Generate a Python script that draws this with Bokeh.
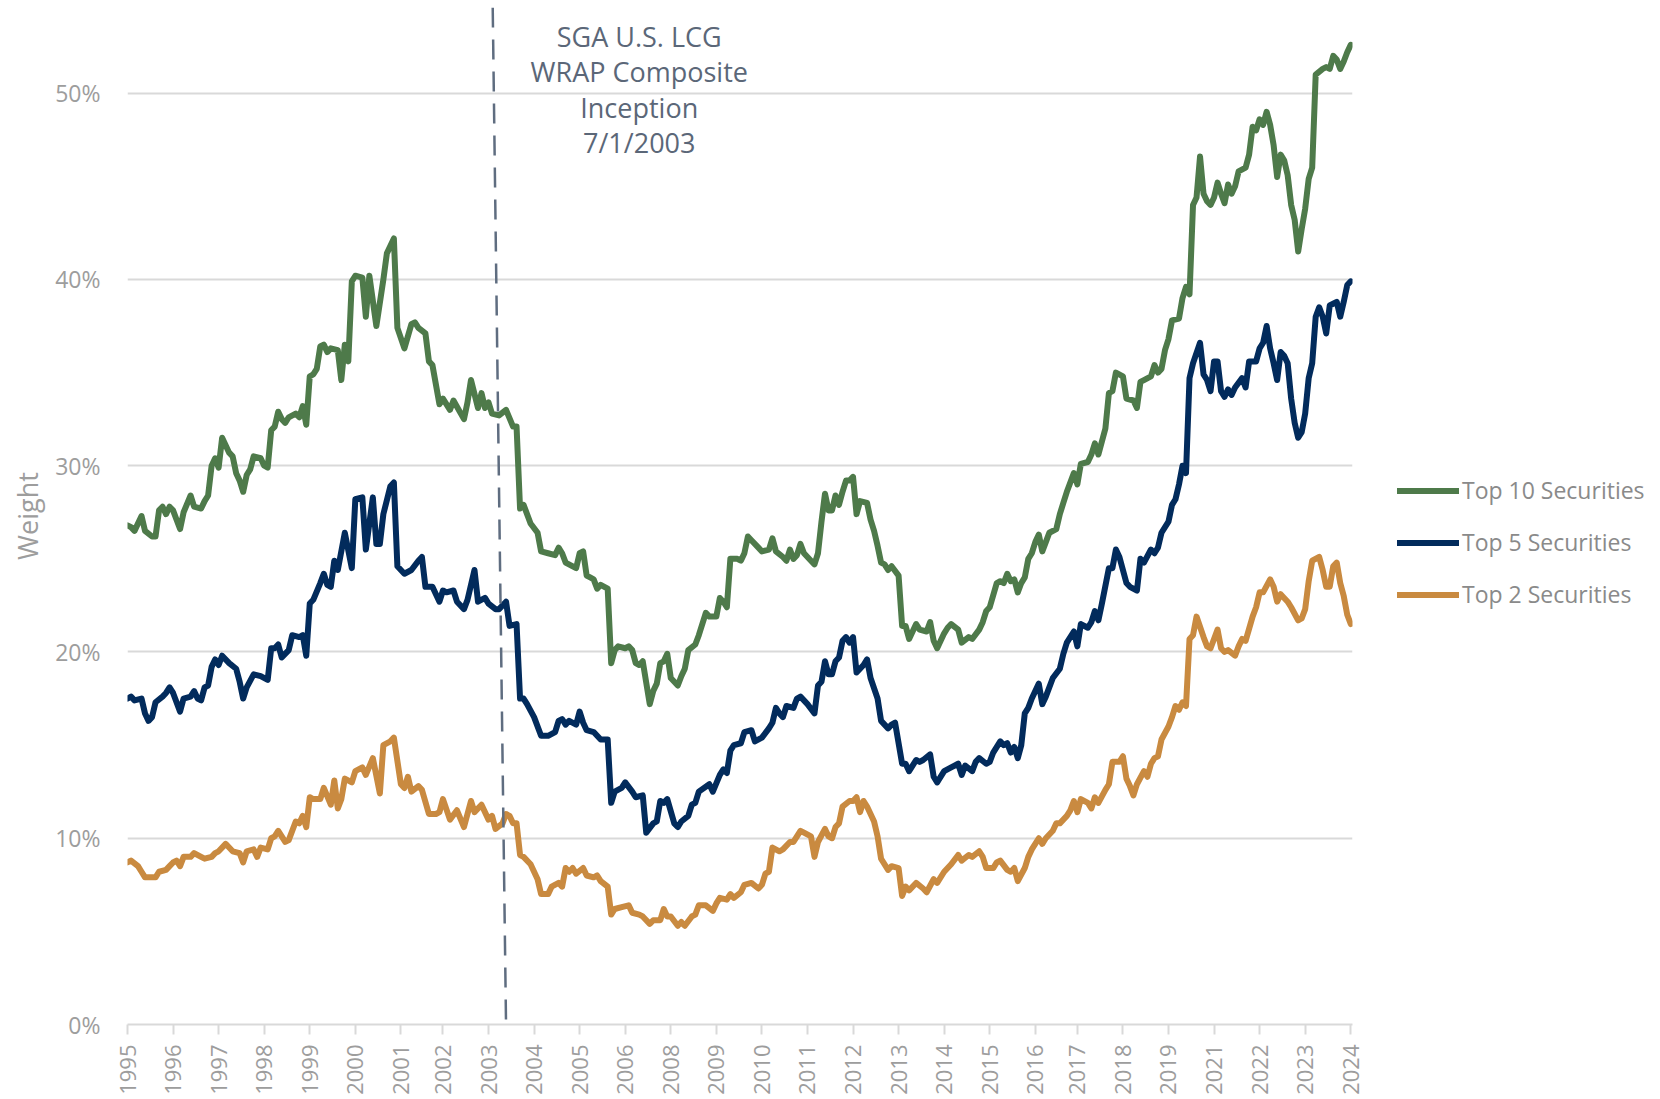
import math
from bokeh.plotting import figure
from bokeh.models import Range1d, FixedTicker, PrintfTickFormatter, Legend, LegendItem, Label
from bokeh.embed import file_html
from bokeh.resources import INLINE

# ---------------- data ----------------
x_labels = ["1995", "1996", "1997", "1998", "1999", "2000", "2001", "2002", "2003", "2004",
            "2005", "2006", "2008", "2009", "2010", "2011", "2012", "2013", "2014", "2015",
            "2016", "2017", "2018", "2019", "2021", "2022", "2023", "2024"]
last_month = 349

series_names = ["Top 10 Securities", "Top 5 Securities", "Top 2 Securities"]
series_colors = ["#4e7a4a", "#022b5c", "#c98a40"]

top10_month = [0, 1, 2, 4, 5, 7, 8, 9, 10, 11, 12, 13, 14, 15, 16, 18, 19, 21, 22, 23, 24, 25, 26, 27, 29, 30, 31, 32, 33, 34, 35, 36, 38, 39, 40, 41, 42, 43, 44, 45, 46, 48, 49, 50, 51, 52, 53, 54, 55, 56, 57, 58, 60, 61, 62, 63, 64, 65, 67, 68, 69, 71, 73, 74, 76, 77, 79, 81, 82, 83, 85, 86, 87, 89, 90, 92, 93, 96, 97, 98, 100, 101, 102, 103, 104, 106, 108, 110, 111, 112, 113, 115, 117, 118, 120, 122, 123, 124, 125, 128, 129, 130, 131, 132, 133, 134, 135, 137, 138, 139, 140, 142, 143, 144, 145, 146, 147, 149, 150, 151, 152, 153, 154, 155, 157, 158, 159, 160, 162, 163, 165, 166, 168, 169, 170, 171, 172, 174, 175, 176, 177, 178, 180, 181, 183, 184, 185, 187, 188, 189, 190, 191, 192, 193, 195, 196, 197, 198, 199, 200, 201, 202, 203, 204, 205, 206, 207, 208, 209, 211, 212, 213, 214, 215, 216, 217, 218, 220, 221, 222, 223, 225, 226, 228, 229, 230, 231, 233, 234, 235, 237, 238, 240, 241, 243, 244, 245, 246, 248, 249, 250, 251, 252, 253, 254, 255, 256, 257, 258, 259, 260, 261, 262, 263, 265, 266, 267, 268, 270, 271, 272, 274, 275, 276, 277, 279, 280, 281, 282, 284, 285, 287, 288, 289, 290, 292, 293, 294, 295, 296, 297, 298, 300, 301, 302, 303, 304, 305, 306, 307, 308, 309, 310, 311, 312, 313, 314, 315, 316, 317, 319, 320, 321, 322, 323, 324, 325, 326, 327, 328, 329, 330, 331, 332, 333, 334, 335, 336, 337, 338, 339, 341, 342, 343, 344, 345, 346, 347, 348, 349]
top10 = [26.8, 26.7, 26.5, 27.3, 26.5, 26.2, 26.2, 27.6, 27.8, 27.4, 27.8, 27.6, 27.1, 26.6, 27.5, 28.4, 27.8, 27.7, 28.1, 28.4, 30.0, 30.4, 29.9, 31.5, 30.7, 30.5, 29.6, 29.2, 28.6, 29.5, 29.8, 30.5, 30.4, 30.0, 29.9, 31.9, 32.1, 32.9, 32.5, 32.3, 32.6, 32.8, 32.6, 33.2, 32.2, 34.8, 34.9, 35.2, 36.4, 36.5, 36.1, 36.3, 36.2, 34.6, 36.5, 35.6, 39.9, 40.2, 40.1, 38.0, 40.2, 37.5, 40.0, 41.4, 42.2, 37.4, 36.3, 37.6, 37.7, 37.4, 37.1, 35.6, 35.4, 33.3, 33.6, 33.0, 33.5, 32.5, 33.4, 34.6, 33.1, 33.9, 33.1, 33.4, 32.8, 32.7, 33.0, 32.1, 32.1, 27.7, 27.9, 26.9, 26.4, 25.4, 25.3, 25.2, 25.6, 25.3, 24.8, 24.5, 25.3, 25.4, 24.1, 24.0, 23.9, 23.4, 23.6, 23.4, 19.4, 20.1, 20.3, 20.2, 20.3, 20.1, 19.4, 19.3, 19.5, 17.2, 17.9, 18.3, 19.4, 19.5, 19.9, 18.6, 18.2, 18.7, 19.1, 20.1, 20.4, 20.9, 22.1, 21.9, 21.9, 22.9, 22.7, 22.4, 25.0, 25.0, 24.9, 25.3, 26.2, 26.0, 25.6, 25.4, 25.5, 26.1, 25.4, 25.1, 24.9, 25.5, 25.0, 25.2, 25.8, 25.3, 24.9, 24.7, 25.3, 27.0, 28.5, 27.6, 27.6, 28.4, 27.9, 28.6, 29.2, 29.2, 29.4, 27.4, 28.1, 28.0, 27.1, 26.5, 25.7, 24.8, 24.7, 24.4, 24.6, 24.1, 21.4, 21.4, 20.7, 21.5, 21.2, 21.1, 21.6, 20.6, 20.2, 21.0, 21.3, 21.5, 21.2, 20.5, 20.8, 20.7, 21.2, 21.6, 22.2, 22.4, 23.7, 23.8, 23.7, 24.2, 23.8, 23.9, 23.2, 23.7, 24.0, 25.0, 25.3, 25.9, 26.3, 25.4, 25.9, 26.4, 26.6, 27.4, 28.0, 28.6, 29.6, 29.0, 30.1, 30.2, 30.6, 31.2, 30.6, 32.0, 33.9, 34.0, 35.0, 34.8, 33.6, 33.5, 33.1, 34.5, 34.6, 34.8, 35.4, 35.0, 35.2, 36.2, 36.8, 37.8, 37.9, 39.0, 39.6, 39.2, 44.0, 44.4, 46.6, 44.6, 44.2, 44.0, 44.4, 45.2, 44.6, 44.1, 45.1, 44.6, 45.0, 45.8, 46.0, 46.7, 48.2, 48.0, 48.6, 48.3, 49.0, 48.3, 47.2, 45.5, 46.7, 46.4, 45.6, 44.0, 43.2, 41.5, 42.7, 43.8, 45.4, 46.0, 51.0, 51.3, 51.4, 51.3, 52.0, 51.8, 51.3, 51.7, 52.2, 52.6]

top5_month = [0, 1, 2, 4, 5, 6, 7, 8, 10, 11, 12, 13, 15, 16, 18, 19, 20, 21, 22, 23, 24, 25, 26, 27, 29, 31, 32, 33, 34, 36, 38, 40, 41, 42, 43, 44, 46, 47, 49, 50, 51, 52, 53, 55, 56, 57, 58, 59, 60, 62, 64, 65, 67, 68, 70, 71, 72, 73, 75, 76, 77, 79, 81, 83, 84, 85, 87, 89, 90, 91, 93, 94, 96, 97, 99, 100, 102, 103, 105, 106, 108, 109, 111, 112, 113, 114, 116, 118, 120, 122, 123, 124, 125, 126, 128, 129, 130, 131, 133, 135, 137, 138, 139, 141, 142, 144, 145, 147, 148, 150, 151, 152, 153, 154, 156, 157, 158, 160, 161, 162, 163, 166, 167, 169, 170, 171, 172, 173, 175, 176, 178, 179, 181, 183, 184, 185, 186, 187, 188, 190, 191, 192, 194, 196, 197, 198, 199, 200, 201, 202, 203, 204, 205, 206, 207, 208, 210, 211, 212, 214, 215, 217, 218, 219, 221, 222, 223, 225, 226, 227, 229, 230, 231, 233, 235, 237, 238, 239, 241, 242, 243, 245, 246, 247, 249, 250, 251, 252, 253, 254, 255, 256, 257, 258, 260, 261, 262, 264, 266, 267, 268, 270, 271, 272, 274, 275, 276, 277, 278, 280, 281, 282, 283, 285, 286, 288, 289, 290, 292, 293, 294, 295, 297, 298, 299, 300, 301, 302, 303, 304, 306, 307, 308, 309, 310, 311, 312, 313, 314, 315, 316, 318, 319, 320, 322, 323, 324, 325, 326, 327, 328, 329, 330, 331, 332, 333, 334, 335, 336, 337, 338, 339, 340, 341, 342, 343, 345, 346, 347, 348, 349]
top5 = [17.5, 17.6, 17.4, 17.5, 16.7, 16.3, 16.5, 17.3, 17.6, 17.8, 18.1, 17.8, 16.8, 17.5, 17.6, 17.9, 17.5, 17.4, 18.1, 18.2, 19.2, 19.6, 19.3, 19.8, 19.4, 19.1, 18.4, 17.5, 18.1, 18.8, 18.7, 18.5, 20.2, 20.2, 20.4, 19.7, 20.1, 20.9, 20.8, 20.9, 19.8, 22.6, 22.8, 23.7, 24.2, 23.6, 23.5, 24.9, 24.4, 26.4, 24.5, 28.2, 28.3, 25.5, 28.3, 25.8, 25.8, 27.4, 28.9, 29.1, 24.6, 24.2, 24.4, 24.9, 25.1, 23.5, 23.5, 22.7, 23.3, 23.2, 23.3, 22.7, 22.3, 22.8, 24.4, 22.7, 22.9, 22.6, 22.3, 22.3, 22.7, 21.4, 21.5, 17.5, 17.5, 17.2, 16.5, 15.5, 15.5, 15.7, 16.3, 16.4, 16.1, 16.3, 16.1, 16.8, 16.2, 15.8, 15.7, 15.3, 15.3, 11.9, 12.5, 12.7, 13.0, 12.5, 12.2, 12.3, 10.3, 10.8, 10.9, 12.0, 11.9, 12.1, 10.8, 10.6, 10.9, 11.2, 11.8, 11.9, 12.5, 12.9, 12.5, 13.4, 13.7, 13.5, 14.7, 15.0, 15.1, 15.7, 15.8, 15.2, 15.4, 15.9, 16.2, 17.0, 16.7, 16.5, 17.1, 17.0, 17.5, 17.6, 17.2, 16.7, 18.2, 18.4, 19.5, 18.8, 18.8, 19.5, 19.7, 20.6, 20.8, 20.5, 20.8, 18.9, 19.3, 19.6, 18.6, 17.5, 16.3, 15.9, 16.1, 16.2, 14.0, 14.0, 13.6, 14.2, 14.1, 14.2, 14.5, 13.3, 13.0, 13.6, 13.8, 14.0, 13.4, 13.9, 13.6, 14.1, 14.3, 14.0, 14.1, 14.6, 15.2, 15.0, 15.1, 14.6, 14.9, 14.3, 15.0, 16.7, 17.0, 17.5, 18.3, 17.2, 17.6, 18.6, 19.1, 19.9, 20.5, 21.1, 20.3, 21.5, 21.3, 21.6, 22.2, 21.7, 22.6, 24.5, 24.5, 25.5, 25.1, 23.7, 23.5, 23.3, 25.0, 24.8, 25.5, 25.3, 25.6, 26.4, 27.0, 27.9, 28.2, 29.0, 30.0, 29.6, 34.7, 35.5, 36.6, 34.9, 34.6, 34.0, 35.6, 35.6, 34.0, 33.7, 34.1, 33.8, 34.2, 34.7, 34.2, 35.6, 35.6, 36.3, 36.6, 37.5, 36.3, 35.5, 34.6, 36.1, 35.9, 35.5, 33.6, 32.3, 31.5, 31.8, 32.8, 34.7, 35.5, 38.0, 38.5, 38.0, 37.1, 38.6, 38.8, 38.0, 38.8, 39.7, 39.9]

top2_month = [0, 1, 3, 4, 5, 7, 8, 9, 11, 12, 13, 14, 15, 16, 18, 19, 21, 22, 24, 25, 26, 28, 29, 30, 32, 33, 34, 36, 37, 38, 40, 41, 42, 43, 45, 46, 48, 49, 50, 51, 52, 53, 55, 56, 58, 59, 60, 61, 62, 64, 65, 67, 68, 70, 72, 73, 75, 76, 78, 79, 80, 81, 83, 84, 86, 88, 89, 90, 92, 94, 96, 98, 99, 101, 103, 104, 105, 107, 108, 109, 110, 111, 112, 113, 115, 117, 118, 120, 121, 123, 124, 125, 126, 127, 128, 130, 131, 133, 134, 135, 137, 138, 139, 141, 143, 144, 146, 147, 149, 150, 152, 153, 154, 155, 157, 158, 159, 161, 162, 163, 165, 167, 168, 169, 171, 172, 173, 175, 176, 178, 180, 181, 182, 183, 184, 186, 187, 189, 190, 192, 193, 195, 196, 197, 199, 200, 201, 202, 203, 204, 206, 207, 208, 209, 210, 211, 213, 214, 215, 217, 218, 220, 221, 222, 223, 225, 227, 228, 230, 231, 233, 234, 235, 237, 238, 240, 241, 243, 244, 245, 247, 248, 249, 251, 252, 253, 254, 256, 257, 258, 260, 261, 262, 264, 265, 266, 268, 269, 270, 271, 272, 274, 275, 276, 277, 279, 280, 281, 283, 284, 285, 286, 287, 288, 290, 291, 292, 293, 294, 295, 297, 298, 299, 300, 301, 302, 303, 304, 305, 307, 308, 309, 310, 311, 312, 313, 314, 316, 317, 318, 319, 321, 322, 323, 324, 326, 327, 328, 329, 330, 331, 332, 334, 335, 336, 337, 338, 340, 341, 342, 343, 344, 345, 346, 347, 348, 349]
top2 = [8.7, 8.8, 8.5, 8.2, 7.9, 7.9, 7.9, 8.2, 8.3, 8.5, 8.7, 8.8, 8.5, 9.0, 9.0, 9.2, 9.0, 8.9, 9.0, 9.2, 9.3, 9.7, 9.5, 9.3, 9.2, 8.7, 9.3, 9.4, 9.0, 9.5, 9.4, 10.0, 10.1, 10.4, 9.8, 9.9, 10.9, 10.8, 11.2, 10.6, 12.2, 12.1, 12.1, 12.7, 11.8, 13.1, 11.6, 12.1, 13.2, 13.0, 13.6, 13.8, 13.4, 14.3, 12.4, 15.0, 15.2, 15.4, 12.9, 12.7, 13.3, 12.5, 12.8, 12.6, 11.3, 11.3, 11.4, 12.1, 11.0, 11.5, 10.6, 12.0, 11.4, 11.8, 11.0, 11.2, 10.5, 10.8, 11.3, 11.2, 10.8, 10.8, 9.1, 9.0, 8.6, 7.8, 7.0, 7.0, 7.4, 7.6, 7.4, 8.4, 8.2, 8.4, 8.1, 8.4, 8.0, 7.9, 8.0, 7.7, 7.4, 5.9, 6.2, 6.3, 6.4, 6.0, 5.9, 5.8, 5.4, 5.6, 5.6, 6.2, 5.8, 5.8, 5.3, 5.5, 5.3, 5.8, 5.9, 6.4, 6.4, 6.1, 6.5, 6.8, 6.7, 7.0, 6.8, 7.1, 7.5, 7.6, 7.3, 7.5, 8.1, 8.2, 9.5, 9.3, 9.4, 9.8, 9.8, 10.4, 10.3, 10.1, 9.0, 9.8, 10.5, 10.1, 10.0, 10.6, 10.8, 11.7, 12.0, 12.0, 12.2, 11.4, 12.0, 11.7, 10.9, 10.1, 8.9, 8.3, 8.5, 8.4, 6.9, 7.4, 7.2, 7.6, 7.3, 7.1, 7.8, 7.6, 8.2, 8.4, 8.6, 9.1, 8.8, 9.1, 9.0, 9.3, 9.0, 8.4, 8.4, 8.7, 8.8, 8.3, 8.2, 8.4, 7.7, 8.4, 9.0, 9.4, 10.0, 9.7, 10.0, 10.4, 10.8, 10.8, 11.2, 11.5, 12.0, 11.4, 12.1, 11.9, 11.6, 12.2, 11.9, 12.6, 12.9, 14.1, 14.1, 14.4, 13.2, 12.8, 12.3, 12.9, 13.6, 13.3, 14.0, 14.3, 14.4, 15.3, 16.0, 16.5, 17.1, 16.9, 17.3, 17.1, 20.7, 20.9, 21.9, 20.8, 20.3, 20.2, 20.7, 21.2, 20.2, 20.0, 20.1, 19.8, 20.3, 20.7, 20.6, 21.9, 22.4, 23.2, 23.2, 23.9, 23.5, 22.7, 23.1, 22.9, 22.7, 22.4, 21.7, 21.8, 22.3, 23.8, 24.9, 25.1, 24.4, 23.5, 23.5, 24.6, 24.8, 23.7, 23.0, 22.0, 21.5]

y_ticks = [0, 10, 20, 30, 40, 50]

annotation_lines = ["SGA U.S. LCG", "WRAP Composite", "Inception", "7/1/2003"]
annotation_x = 146.0
annotation_y = [53.05, 51.15, 49.25, 47.35]
inception_x = [104.2, 108.0]
inception_y = [54.6, 0.0]

# ---------------- figure ----------------
FONT = "Open Sans"
p = figure(frame_width=1225, frame_height=1017, output_backend="svg", toolbar_location=None,
           x_range=Range1d(0, last_month + 0.5), y_range=Range1d(0, 54.6),
           min_border_left=127, min_border_right=0, min_border_top=7, min_border_bottom=0,
           background_fill_color="white", border_fill_color="white")
p.outline_line_color = None

# grid
p.xgrid.grid_line_color = None
p.ygrid.grid_line_color = "#d9d9d9"
p.ygrid.grid_line_width = 2

# y axis
p.yaxis.ticker = FixedTicker(ticks=y_ticks)
p.yaxis.formatter = PrintfTickFormatter(format="%d%%")
p.yaxis.axis_line_color = None
p.yaxis.major_tick_line_color = None
p.yaxis.minor_tick_line_color = None
p.yaxis.major_tick_out = 0
p.yaxis.major_label_standoff = 27
p.yaxis.major_label_text_font = FONT
p.yaxis.major_label_text_font_size = "23px"
p.yaxis.major_label_text_color = "#9d9d9d"
p.yaxis.axis_label = "Weight"
p.yaxis.axis_label_text_font = FONT
p.yaxis.axis_label_text_font_size = "27px"
p.yaxis.axis_label_text_font_style = "normal"
p.yaxis.axis_label_text_color = "#9d9d9d"
p.yaxis.axis_label_standoff = 6

# x axis
n = len(x_labels)
tick_pos = [round(i * last_month / (n - 1)) for i in range(n)]
p.xaxis.ticker = FixedTicker(ticks=tick_pos)
p.xaxis.major_label_overrides = {t: lab for t, lab in zip(tick_pos, x_labels)}
p.xaxis.minor_tick_line_color = None
p.xaxis.axis_line_color = "#d9d9d9"
p.xaxis.axis_line_width = 2
p.xaxis.major_tick_line_color = "#d9d9d9"
p.xaxis.major_tick_line_width = 2
p.xaxis.major_tick_out = 10
p.xaxis.major_tick_in = 0
p.xaxis.major_label_orientation = math.pi / 2
p.xaxis.major_label_standoff = 10
p.xaxis.major_label_text_font = FONT
p.xaxis.major_label_text_font_size = "22px"
p.xaxis.major_label_text_color = "#9d9d9d"

# series
renderers = []
for xs, ys, col in [(top10_month, top10, series_colors[0]),
                    (top5_month, top5, series_colors[1]),
                    (top2_month, top2, series_colors[2])]:
    r = p.line(xs, ys, line_color=col, line_width=6, line_join="round", line_cap="round")
    renderers.append(r)

# inception marker
p.segment(x0=[inception_x[0]], y0=[inception_y[0]], x1=[inception_x[1]], y1=[inception_y[1]],
          line_color="#5f6d80", line_width=2.5, line_dash="20 12")

for txt, yy in zip(annotation_lines, annotation_y):
    p.add_layout(Label(x=annotation_x, y=yy, text=txt, text_align="center", text_baseline="middle",
                       text_font=FONT, text_font_size="27px", text_color="#5b6778"))

legend = Legend(items=[LegendItem(label=nm, renderers=[r]) for nm, r in zip(series_names, renderers)],
                location=(45, 414), orientation="vertical",
                glyph_width=62, glyph_height=25, label_height=25, label_standoff=3,
                spacing=20, padding=0, margin=0, border_line_color=None, background_fill_alpha=0,
                label_text_font=FONT, label_text_font_size="23px", label_text_color="#8a8a8a")
p.add_layout(legend, "right")

open("out.html", "w").write(file_html(p, INLINE))
